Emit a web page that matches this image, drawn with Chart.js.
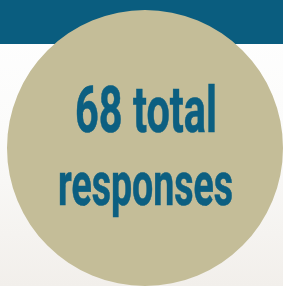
<!DOCTYPE html>
<html>
<head>
<meta charset="utf-8">
<script src="https://cdn.jsdelivr.net/npm/chart.js@4"></script>
<style>
  html, body { margin: 0; padding: 0; }
  body {
    width: 283px; height: 286px; overflow: hidden; position: relative;
    background: linear-gradient(to bottom, #ffffff 0%, #fbfbfa 45%, #f2efeb 100%);
  }
  #band { position: absolute; left: 0; top: 0; width: 283px; height: 44px; background: #0a5d7f; }
  #wrap { position: absolute; left: 7px; top: 10px; width: 276px; height: 276px; }
</style>
</head>
<body>
<div id="band"></div>
<div id="wrap"><canvas id="myChart"></canvas></div>
<script>
// data
var labels = ["Total responses"];
var values = [68];
var textLines = [values[0] + " total", "responses"];

// text in the middle of the circle
var centerText = {
    id: "centerText",
    afterDraw: function (chart) {
        var ctx = chart.ctx;
        var arc = chart.getDatasetMeta(0).data[0];
        var cx = arc.x, cy = arc.y;
        // baseline offsets and target widths
        var lines = [
            { text: textLines[0], dy: -16, dx: 1, w: 142, size: 65 },
            { text: textLines[1], dy: 56.5, dx: 0.5, w: 175, size: 61 }
        ];
        ctx.save();
        ctx.fillStyle = "#0c5f81";
        ctx.strokeStyle = "#0c5f81";
        ctx.lineWidth = 0.6;
        ctx.textAlign = "center";
        ctx.textBaseline = "alphabetic";
        lines.forEach(function (l) {
            ctx.font = "bold " + l.size + "px Roboto";
            var natural = ctx.measureText(l.text).width;
            var sx = l.w / natural;
            ctx.save();
            ctx.translate(cx + l.dx, cy + l.dy);
            ctx.scale(sx, 1);
            ctx.fillText(l.text, 0, 0);
            ctx.strokeText(l.text, 0, 0);
            ctx.restore();
        });
        ctx.restore();
    }
};

var ctx = document.getElementById("myChart").getContext("2d");
var myChart = new Chart(ctx, {
    type: "pie",
    data: {
        labels: labels,
        datasets: [{
            data: values,
            backgroundColor: ["#c4bd98"],
            borderWidth: 0
        }]
    },
    options: {
        responsive: true,
        maintainAspectRatio: false,
        animation: false,
        layout: { padding: 0 },
        plugins: {
            legend: { display: false },
            tooltip: { enabled: false }
        }
    },
    plugins: [centerText]
});
</script>
</body>
</html>
